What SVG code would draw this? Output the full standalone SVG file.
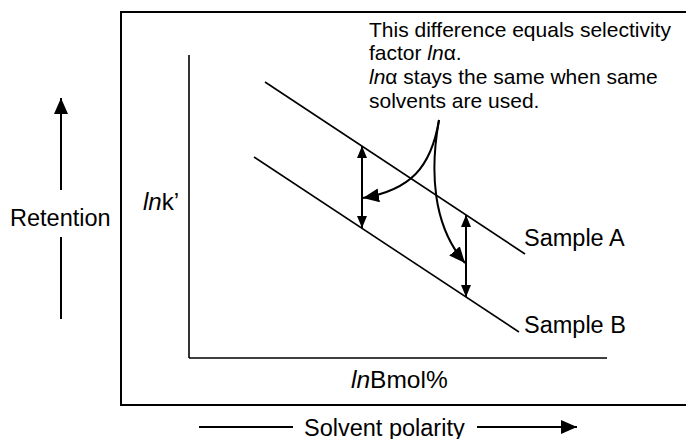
<svg xmlns="http://www.w3.org/2000/svg" width="686" height="439" viewBox="0 0 686 439">
<style>
text{font-family:"Liberation Sans",Arial,sans-serif;font-size:23.5px;fill:#000}
.it{font-style:italic}
.note{font-size:21px}
.ln{stroke:#000;fill:none}
</style>
<defs>
<marker id="ah" viewBox="0 0 12 10" refX="12" refY="5" markerWidth="12" markerHeight="10" markerUnits="userSpaceOnUse" orient="auto-start-reverse">
<path d="M0,0 L12,5 L0,10 z" fill="#000"/>
</marker>
<marker id="ahb" viewBox="0 0 16 14" refX="16" refY="7" markerWidth="16" markerHeight="14" markerUnits="userSpaceOnUse" orient="auto-start-reverse">
<path d="M0,0 L16,7 L0,14 z" fill="#000"/>
</marker>
</defs>
<rect width="686" height="439" fill="#fff"/>
<g id="frame"><rect x="121" y="12" width="600" height="393" class="ln" stroke-width="2"/></g>
<g id="axes">
<line x1="189" y1="55" x2="189" y2="358" class="ln" stroke-width="1.6"/>
<line x1="189" y1="358" x2="607" y2="358" class="ln" stroke-width="1.6"/>
<text x="143" y="210" style="font-size:24px"><tspan class="it">ln</tspan>k’</text>
<text x="351" y="388" style="font-size:24.5px"><tspan class="it">ln</tspan>Bmol%</text>
</g>
<g id="retention">
<line x1="61" y1="190" x2="61" y2="98" class="ln" stroke-width="2" marker-end="url(#ahb)"/>
<line x1="61" y1="237" x2="61" y2="319" class="ln" stroke-width="2"/>
<text x="10" y="226">Retention</text>
</g>
<g id="polarity">
<line x1="199" y1="427" x2="293" y2="427" class="ln" stroke-width="2"/>
<line x1="477" y1="427" x2="577" y2="427" class="ln" stroke-width="2" marker-end="url(#ahb)"/>
<text x="304" y="436">Solvent polarity</text>
</g>
<g id="sampleA">
<line x1="265" y1="82" x2="525" y2="254" class="ln" stroke-width="1.6"/>
<text x="524" y="246">Sample A</text>
</g>
<g id="sampleB">
<line x1="254" y1="157" x2="519" y2="332" class="ln" stroke-width="1.6"/>
<text x="524" y="333">Sample B</text>
</g>
<g id="note">
<text x="369" y="37" class="note">This difference equals selectivity</text>
<text x="369" y="60" class="note">factor <tspan class="it">ln</tspan>α.</text>
<text x="369" y="84" class="note"><tspan class="it">ln</tspan>α stays the same when same</text>
<text x="369" y="108" class="note">solvents are used.</text>
</g>
<g id="connectors">
<line x1="362" y1="146" x2="362" y2="228" class="ln" stroke-width="2" marker-start="url(#ah)" marker-end="url(#ah)"/>
<line x1="466" y1="215" x2="466" y2="297" class="ln" stroke-width="2" marker-start="url(#ah)" marker-end="url(#ah)"/>
<path d="M439,120 C431,168 410,190 363,198" class="ln" stroke-width="2" marker-end="url(#ahb)"/>
<path d="M439,120 C430,170 432,225 465,263" class="ln" stroke-width="2" marker-end="url(#ahb)"/>
</g>
</svg>
